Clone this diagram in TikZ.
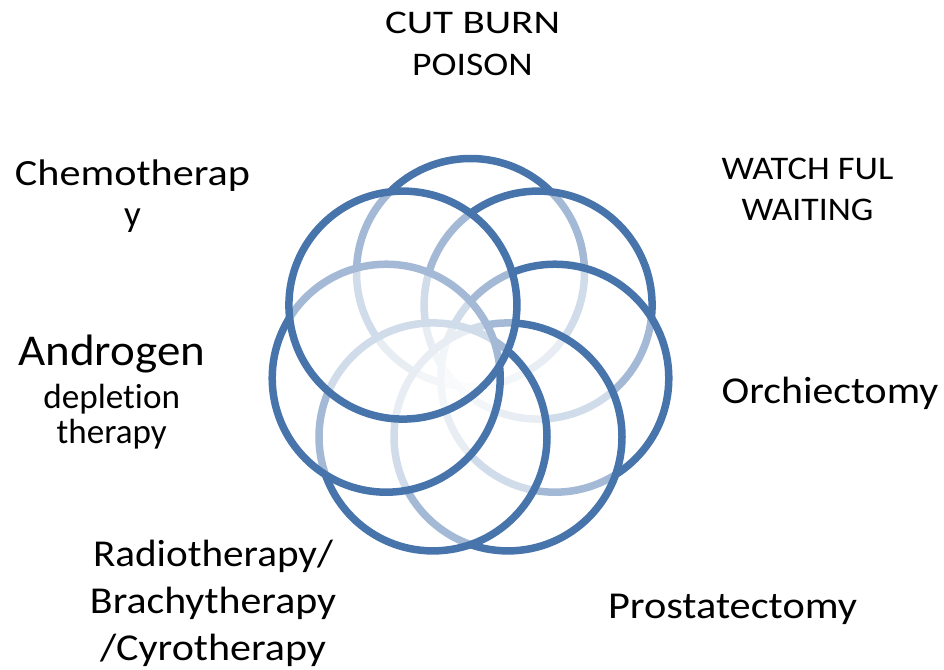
\documentclass[tikz,border=0pt]{standalone}
\usepackage{fontspec}
\setmainfont{Carlito}[Ligatures=NoCommon]
\usepackage{graphicx}
\newcommand{\fitw}[2]{\resizebox{#1pt}{\height}{#2}}
\definecolor{ringblue}{HTML}{4874AC}
\begin{document}
\begin{tikzpicture}[x=1pt,y=-1pt,
  ring/.style={draw=ringblue, line width=7.5pt, fill=white, fill opacity=0.5},
  lbl/.style={inner sep=0pt, align=center, anchor=base, text=black}]
\useasboundingbox (0,0) rectangle (944,669);
% ring centres, drawn in this order
\coordinate (c1) at (470.5,272.5);
\coordinate (c2) at (538.1,305.1);
\coordinate (c3) at (554.8,378.2);
\coordinate (c4) at (508.0,436.9);
\coordinate (c5) at (433.0,436.9);
\coordinate (c6) at (386.2,378.2);
\coordinate (c7) at (402.9,305.1);
\foreach \c in {c1,c2,c3,c4,c5,c6,c7}
  \draw[ring] (\c) circle[radius=114];
% labels (anchor = baseline of the last line)
\node[lbl, font=\fontsize{33}{42.7}\selectfont] (cut) at (472.5,76)
  {\fitw{175}{CUT BURN}\\\fitw{120.6}{POISON}};
\node[lbl, font=\fontsize{37}{41.7}\selectfont] (chemo) at (132.5,226.7)
  {\fitw{235}{Chemotherap}\\y};
\node[lbl, font=\fontsize{33}{40.7}\selectfont] (watch) at (807.5,220)
  {\fitw{171.7}{WATCH FUL}\\\fitw{131.7}{WAITING}};
\node[lbl, font=\fontsize{35}{35}\selectfont] (andro) at (111.7,443.3)
  {{\fontsize{44}{44}\selectfont\fitw{186.7}{Androgen}}\\[8.3pt]\fitw{136.7}{depletion}\\\fitw{110}{therapy}};
\node[lbl, font=\fontsize{38}{38}\selectfont] (orchi) at (830,403.3)
  {\fitw{216.7}{Orchiectomy}};
\node[lbl, font=\fontsize{38}{47}\selectfont] (radio) at (213,660)
  {\fitw{240}{Radiotherapy/}\\\fitw{246}{Brachytherapy}\\\fitw{226}{/Cyrotherapy}};
\node[lbl, font=\fontsize{38}{38}\selectfont] (prost) at (732.5,618)
  {\fitw{249}{Prostatectomy}};
\end{tikzpicture}
\end{document}
